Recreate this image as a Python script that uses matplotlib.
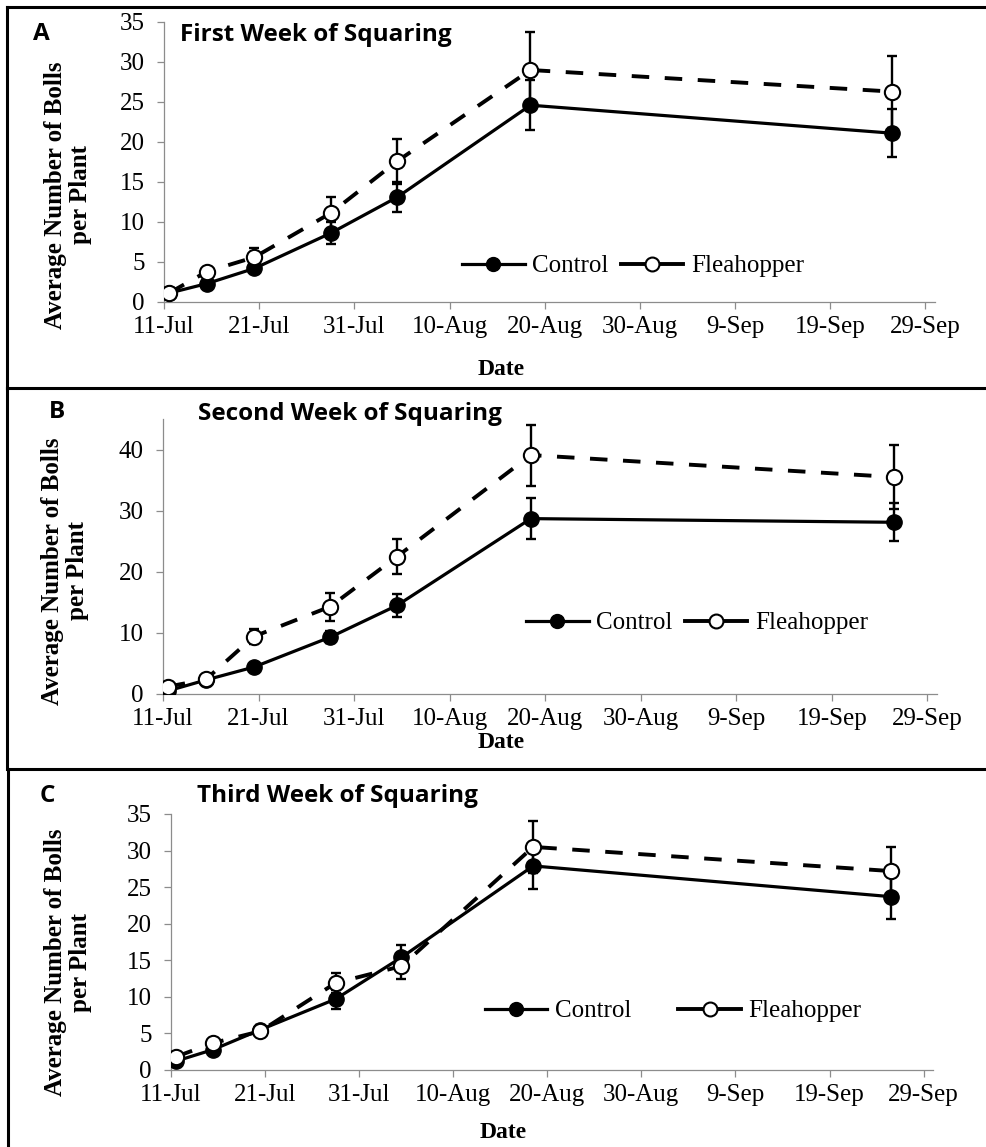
import numpy as np
import pandas as pd
import matplotlib
matplotlib.use('Agg')
import matplotlib.pyplot as plt
from matplotlib.lines import Line2D

# sampling dates (points sit mid-day on the date axis)
sample_dates = ['2013-07-11', '2013-07-15', '2013-07-20', '2013-07-28',
                '2013-08-04', '2013-08-18', '2013-09-25']

# average bolls per plant and standard errors, one list per panel
control_a = [1.1, 2.3, 4.2, 8.6, 13.1, 24.6, 21.1]
control_a_err = [0.3, 0.4, 0.6, 1.4, 1.9, 3.1, 3.0]
flea_a = [1.1, 3.8, 5.6, 11.1, 17.6, 29.0, 26.3]
flea_a_err = [0.3, 0.5, 1.1, 2.0, 2.8, 4.8, 4.5]

control_b = [0.5, 2.3, 4.4, 9.3, 14.5, 28.7, 28.1]
control_b_err = [0.3, 0.4, 0.6, 1.0, 1.9, 3.3, 3.1]
flea_b = [1.2, 2.4, 9.4, 14.3, 22.5, 39.1, 35.5]
flea_b_err = [0.3, 0.5, 1.2, 2.3, 2.9, 5.0, 5.2]

control_c = [1.2, 2.8, 5.5, 9.7, 15.4, 27.9, 23.7]
control_c_err = [0.3, 0.4, 0.6, 1.3, 1.7, 3.2, 3.1]
flea_c = [1.8, 3.7, 5.3, 11.9, 14.2, 30.5, 27.2]
flea_c_err = [0.3, 0.5, 0.7, 1.4, 1.8, 3.5, 3.3]

panel_letters = ['A', 'B', 'C']
panel_titles = ['First Week of Squaring', 'Second Week of Squaring', 'Third Week of Squaring']
y_max = [35, 45, 35]
y_step = [5, 10, 5]
y_top_tick = [35, 40, 35]

W, H = 987, 1147
fig = plt.figure(figsize=(W / 100, H / 100), dpi=100)

serif = 'Liberation Serif'
sans = 'Open Sans'

start = pd.Timestamp('2013-07-11')
x_pts = (pd.to_datetime(sample_dates) - start).days.values + 0.5
tick_days = np.arange(0, 81, 10)
tick_labels = [f"{d.day}-{d.strftime('%b')}" for d in start + pd.to_timedelta(tick_days, unit='D')]

# axes boxes in pixels: left, right, top, bottom
boxes = [(164, 935, 22, 302), (163, 937, 419, 694), (171, 933, 814, 1070)]
# label positions in pixels
ylabel_xy = [(68, 195), (65, 571), (68, 962)]
date_xy = [(501, 370), (501, 742), (503, 1133)]
title_xy = [(180, 41), (198, 420), (197, 802)]
letter_xy = [(33, 40), (49, 418), (40, 802)]
legend_xy = [(633, 266), (697, 623), (673, 1011)]
legend_colsp = [0.5, 0.5, 1.9]

series = [(control_a, control_a_err, flea_a, flea_a_err),
          (control_b, control_b_err, flea_b, flea_b_err),
          (control_c, control_c_err, flea_c, flea_c_err)]

grey = '#8c8c8c'
solid_lw = 2.3
dash_lw = 2.8

# legend keys: "—●—" and "—○—"
legend_keys = [
    Line2D([], [], color='black', lw=solid_lw, marker='o', ms=10, mfc='black', mec='black'),
    Line2D([], [], color='black', lw=dash_lw, marker='o', ms=10, mfc='white', mec='black', mew=1.5),
]

for i in range(3):
    l, r, t, b = boxes[i]
    ax = fig.add_axes([l / W, 1 - b / H, (r - l) / W, (b - t) / H])
    ctrl, ctrl_err, flea, flea_err = series[i]

    ax.errorbar(x_pts, ctrl, yerr=ctrl_err, fmt='none', ecolor='black',
                elinewidth=1.7, capsize=3.5, capthick=1.7, zorder=2)
    ax.errorbar(x_pts, flea, yerr=flea_err, fmt='none', ecolor='black',
                elinewidth=1.7, capsize=3.5, capthick=1.7, zorder=2)
    ax.plot(x_pts, ctrl, color='black', lw=solid_lw, marker='o', ms=11,
            mfc='black', mec='black', zorder=3)
    ax.plot(x_pts, flea, color='black', lw=dash_lw, ls=(0, (4.5, 4)), marker='o', ms=11,
            mfc='white', mec='black', mew=1.5, zorder=4)

    ax.set_xlim(0, 81)
    ax.set_ylim(0, y_max[i])
    ax.set_xticks(tick_days)
    ax.set_xticklabels(tick_labels)
    ax.set_yticks(np.arange(0, y_top_tick[i] + 1, y_step[i]))
    for s in ['top', 'right']:
        ax.spines[s].set_visible(False)
    for s in ['left', 'bottom']:
        ax.spines[s].set_color(grey)
        ax.spines[s].set_linewidth(0.9)
    ax.tick_params(axis='both', direction='out', length=5, width=0.9, color=grey,
                   labelsize=18)
    ax.tick_params(axis='x', pad=5)
    ax.tick_params(axis='y', pad=9)
    for lab in ax.get_xticklabels() + ax.get_yticklabels():
        lab.set_fontfamily(serif)
    ax.set_facecolor('none')

    lx, ly = legend_xy[i]
    ax.legend(legend_keys, ['Control', 'Fleahopper'], loc='center',
              bbox_to_anchor=(lx / W, 1 - ly / H), bbox_transform=fig.transFigure,
              ncol=2, frameon=False, handlelength=2.5, handletextpad=0.3,
              columnspacing=legend_colsp[i], prop={'family': serif, 'size': 18})

    x, y = ylabel_xy[i]
    fig.text(x / W, 1 - y / H, 'Average Number of Bolls\nper Plant', rotation=90,
             ha='center', va='center', multialignment='center', linespacing=1.1,
             family=serif, weight='bold', size=18)
    x, y = date_xy[i]
    fig.text(x / W, 1 - y / H, 'Date', ha='center', va='center',
             family=serif, weight='bold', size=17)
    x, y = title_xy[i]
    fig.text(x / W, 1 - y / H, panel_titles[i], ha='left', va='baseline',
             family=sans, weight='bold', size=17.5)
    x, y = letter_xy[i]
    fig.text(x / W, 1 - y / H, panel_letters[i], ha='left', va='baseline',
             family=sans, weight='bold', size=17.5)

# panel frames: top and left edges of each block
frame = dict(color='black', lw=2.2, transform=fig.transFigure, clip_on=False)
for top, bot, xl in [(7, 388, 7), (388, 769, 7), (769, H, 8)]:
    fig.add_artist(Line2D([xl / W, 1], [1 - top / H, 1 - top / H], **frame))
    fig.add_artist(Line2D([xl / W, xl / W], [1 - top / H, 1 - bot / H], **frame))

fig.savefig('out.png', dpi=100)
